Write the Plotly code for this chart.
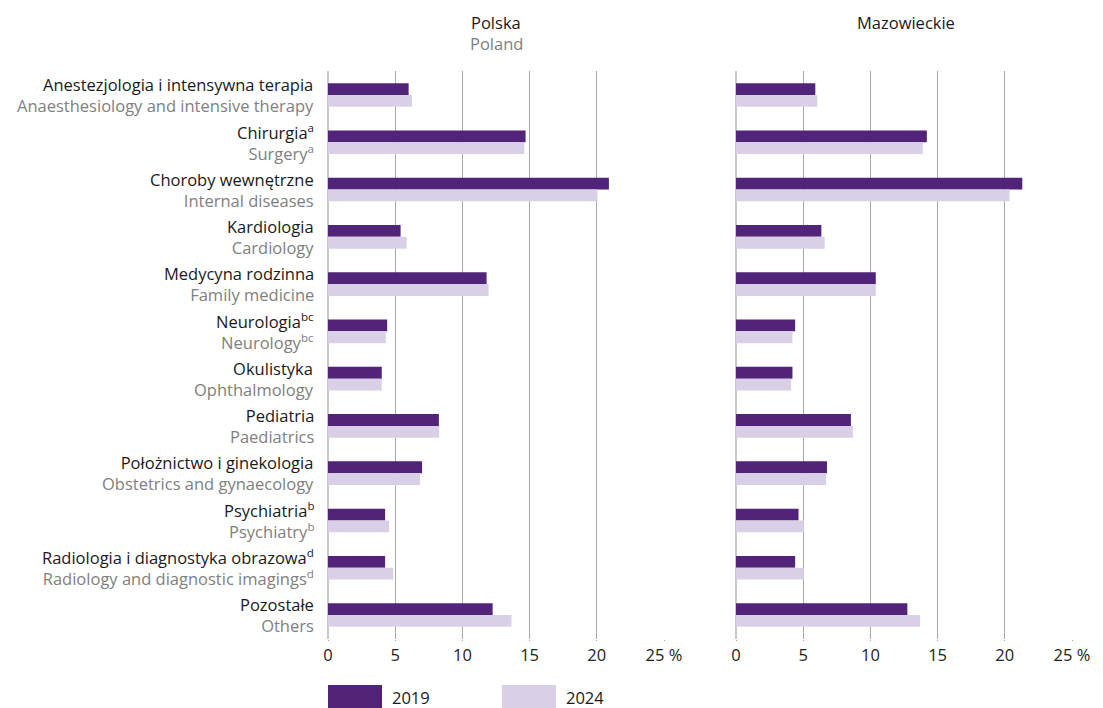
import plotly.graph_objects as go

categories_pl = ["Anestezjologia i intensywna terapia", "Chirurgia<sup>a</sup>", "Choroby wewnętrzne",
                 "Kardiologia", "Medycyna rodzinna", "Neurologia<sup>bc</sup>", "Okulistyka",
                 "Pediatria", "Położnictwo i ginekologia", "Psychiatria<sup>b</sup>",
                 "Radiologia i diagnostyka obrazowa<sup>d</sup>", "Pozostałe"]
categories_en = ["Anaesthesiology and intensive therapy", "Surgery<sup>a</sup>", "Internal diseases",
                 "Cardiology", "Family medicine", "Neurology<sup>bc</sup>", "Ophthalmology",
                 "Paediatrics", "Obstetrics and gynaecology", "Psychiatry<sup>b</sup>",
                 "Radiology and diagnostic imagings<sup>d</sup>", "Others"]
cat_keys = [f"c{i}" for i in range(len(categories_pl))]

polska_2019 = [6.0, 14.7, 20.9, 5.4, 11.8, 4.4, 4.0, 8.25, 7.0, 4.25, 4.25, 12.25]
polska_2024 = [6.25, 14.6, 20.05, 5.85, 11.95, 4.3, 4.0, 8.27, 6.85, 4.55, 4.85, 13.65]
mazow_2019 = [5.9, 14.2, 21.3, 6.35, 10.4, 4.4, 4.2, 8.55, 6.77, 4.65, 4.4, 12.75]
mazow_2024 = [6.05, 13.9, 20.35, 6.6, 10.4, 4.2, 4.1, 8.7, 6.7, 5.05, 5.05, 13.7]

tick_vals = [0, 5, 10, 15, 20, 25]
tick_text = ["0", "5", "10", "15", "20", "25 %"]
years = ["2019", "2024"]

C_DARK = "#51247a"
C_LIGHT = "#d9d0e7"
C_GREY_TXT = "#808080"
FONT = "Open Sans"
FS = 16.5

# page body has an 8px margin; the figure starts at (8, 8)
OFF = 8
W, H = 1103 - OFF, 708 - OFF
def px_x(p): return (p - OFF) / W
def px_y(p): return 1 - (p - OFF) / H

fig = go.Figure()
for vals, name, col, xa in [(polska_2019, years[0], C_DARK, "x"), (polska_2024, years[1], C_LIGHT, "x"),
                            (mazow_2019, years[0], C_DARK, "x2"), (mazow_2024, years[1], C_LIGHT, "x2")]:
    fig.add_trace(go.Bar(x=vals, y=cat_keys, orientation="h", name=name,
                         marker=dict(color=col, line=dict(width=0)),
                         xaxis=xa, yaxis="y", showlegend=False,
                         offsetgroup=name))

axis_common = dict(range=[0, 25], tickvals=tick_vals, ticktext=tick_text,
                   showgrid=True, gridcolor="#a8a8a8", gridwidth=1,
                   zeroline=True, zerolinecolor="#c8c8c8", zerolinewidth=2,
                   ticks="outside", ticklen=1, tickcolor="#a8a8a8", tickwidth=1,
                   showline=False, fixedrange=True, automargin=False,
                   tickfont=dict(family=FONT, size=FS, color="#222222"), anchor="y")

fig.update_layout(
    template="none",
    width=W, height=H, autosize=False,
    margin=dict(l=0, r=0, t=0, b=0, pad=0),
    plot_bgcolor="white", paper_bgcolor="white",
    barmode="group", bargap=0.5, bargroupgap=0,
    font=dict(family=FONT, size=FS, color="#222222"),
    xaxis=dict(domain=[px_x(328), px_x(664)], **axis_common),
    xaxis2=dict(domain=[px_x(736), px_x(1072)], **axis_common),
    yaxis=dict(domain=[px_y(639), px_y(71)], type="category", categoryorder="array",
               categoryarray=cat_keys, autorange="reversed", showticklabels=False,
               showgrid=False, zeroline=False, showline=False, ticks="", automargin=False),
)

ann = []
for key, pl, en in zip(cat_keys, categories_pl, categories_en):
    ann.append(dict(x=px_x(316), xref="paper", y=key, yref="y",
                    text=f"{pl}<br><span style='color:{C_GREY_TXT}'>{en}</span>",
                    showarrow=False, align="right", xanchor="right", yanchor="middle", yshift=0,
                    font=dict(family=FONT, size=FS, color="#1a1a1a")))

ann += [
    dict(x=px_x(496), y=px_y(22), xref="paper", yref="paper", text="Polska", showarrow=False,
         xanchor="center", yanchor="middle", font=dict(family=FONT, size=FS, color="#1a1a1a")),
    dict(x=px_x(496), y=px_y(44), xref="paper", yref="paper", text="Poland", showarrow=False,
         xanchor="center", yanchor="middle", font=dict(family=FONT, size=FS, color=C_GREY_TXT)),
    dict(x=px_x(906), y=px_y(22), xref="paper", yref="paper", text="Mazowieckie", showarrow=False,
         xanchor="center", yanchor="middle", font=dict(family=FONT, size=FS, color="#1a1a1a")),
    dict(x=px_x(390), y=px_y(697), xref="paper", yref="paper", text=years[0], showarrow=False,
         xanchor="left", yanchor="middle", font=dict(family=FONT, size=FS, color="#1a1a1a")),
    dict(x=px_x(564), y=px_y(697), xref="paper", yref="paper", text=years[1], showarrow=False,
         xanchor="left", yanchor="middle", font=dict(family=FONT, size=FS, color="#1a1a1a")),
]
fig.update_layout(annotations=ann)

fig.update_layout(shapes=[
    dict(type="rect", xref="paper", yref="paper", x0=px_x(328), x1=px_x(382), y0=px_y(708), y1=px_y(685),
         fillcolor=C_DARK, line=dict(width=0)),
    dict(type="rect", xref="paper", yref="paper", x0=px_x(502), x1=px_x(556), y0=px_y(708), y1=px_y(685),
         fillcolor=C_LIGHT, line=dict(width=0)),
])

fig.write_html("out.html")
